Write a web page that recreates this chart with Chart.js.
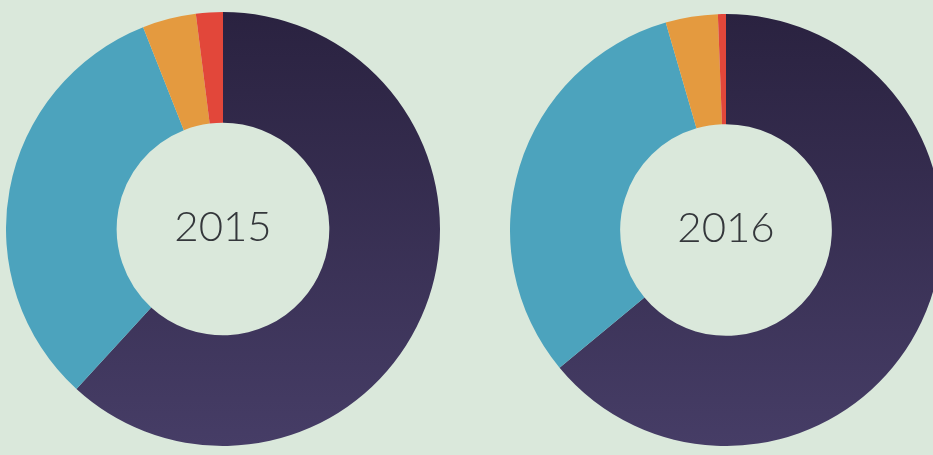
<!DOCTYPE html>
<html lang="en">
<head>
    <meta charset="UTF-8">
    <title>2015 / 2016</title>
    <style>
        html, body { margin: 0; padding: 0; overflow: hidden; }
        body { width: 933px; height: 455px; background: #dae8db; position: relative; }
        .wrap { position: absolute; }
        .year {
            position: absolute; left: 0; top: -4px; width: 100%; height: 100%;
            display: flex; align-items: center; justify-content: center;
            font-family: Lato, "Open Sans", sans-serif; font-weight: 300;
            font-size: 42px; color: #34373b; pointer-events: none;
        }
    </style>
</head>
<body>
    <div class="wrap" id="w2015" style="left:6px; top:12px; width:434px; height:434px;">
        <canvas id="chart2015"></canvas>
        <div class="year">2015</div>
    </div>
    <div class="wrap" id="w2016" style="left:510px; top:14px; width:432px; height:432px;">
        <canvas id="chart2016"></canvas>
        <div class="year">2016</div>
    </div>

    <script src="https://cdn.jsdelivr.net/npm/chart.js@4"></script>
    <script>
        // shares, clockwise from 12 o'clock
        var categories = ['Purple', 'Blue', 'Orange', 'Red'];
        var values2015 = [61.8, 32.2, 4.0, 2.0];
        var values2016 = [64.0, 31.5, 3.9, 0.6];
        var colors = ['#3a3058', '#4ca3bd', '#e49a3f', '#e2473a'];

        function purpleFill(ctx) {
            var chart = ctx.chart;
            var area = chart.chartArea;
            if (!area) return colors[0];
            var g = chart.ctx.createLinearGradient(0, area.top, 0, area.bottom);
            g.addColorStop(0, '#2a2240');
            g.addColorStop(1, '#463d66');
            return g;
        }

        function makeChart(id, values) {
            var ctx = document.getElementById(id).getContext('2d');
            return new Chart(ctx, {
                type: 'doughnut',
                data: {
                    labels: categories,
                    datasets: [{
                        data: values,
                        backgroundColor: function (c) {
                            return c.dataIndex === 0 ? purpleFill(c) : colors[c.dataIndex];
                        },
                        borderWidth: 0
                    }]
                },
                options: {
                    responsive: true,
                    maintainAspectRatio: false,
                    animation: false,
                    cutout: '49%',
                    layout: { padding: 0 },
                    plugins: {
                        legend: { display: false },
                        tooltip: { enabled: false }
                    }
                }
            });
        }

        makeChart('chart2015', values2015);
        makeChart('chart2016', values2016);
    </script>
</body>
</html>
